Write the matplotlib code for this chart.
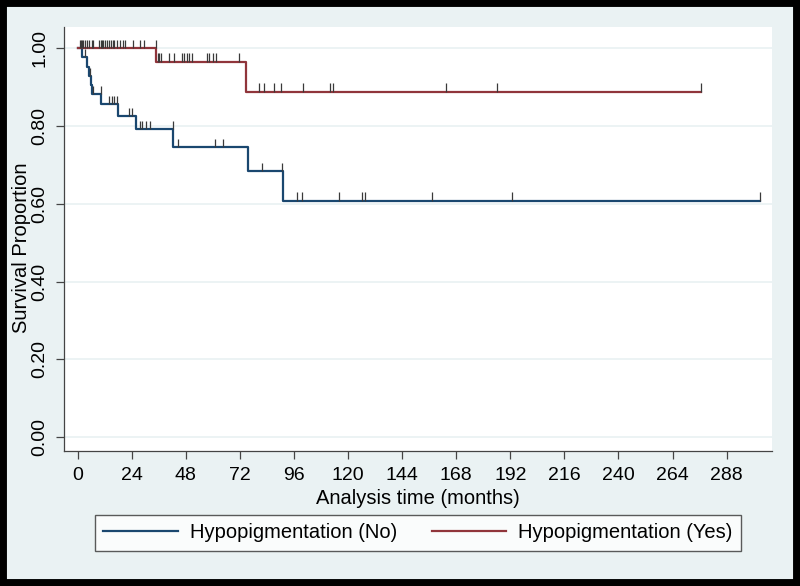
import numpy as np
import matplotlib
matplotlib.use("Agg")
import matplotlib.pyplot as plt
from matplotlib.lines import Line2D
from matplotlib.patches import Rectangle

plt.rcParams['font.family'] = ['Liberation Sans', 'DejaVu Sans']

# Kaplan-Meier steps: time of each drop and survival after it (last point = end of follow-up)
no_times = [0, 2.1, 4.1, 5.2, 5.8, 6.3, 10.5, 17.8, 25.9, 42.5, 75.5, 91.3, 302.7]
no_surv = [1.0, 0.976, 0.952, 0.929, 0.905, 0.881, 0.857, 0.826, 0.791, 0.746, 0.683, 0.608, 0.608]
no_censor = [3.5, 5.5, 7.0, 10.3, 14.0, 15.2, 16.3, 17.4, 23.0, 24.0, 27.5, 28.8, 30.6, 32.0,
             42.3, 44.7, 61.0, 64.4, 81.7, 90.8, 97.2, 99.4, 116.1, 126.0, 127.5, 157.3,
             192.8, 302.7]

yes_times = [0, 35.0, 74.8, 276.4]
yes_surv = [1.0, 0.965, 0.888, 0.888]
yes_censor = [1.0, 1.5, 2.0, 2.5, 3.3, 4.1, 5.3, 6.3, 7.0, 9.7, 10.2, 10.7, 11.4, 12.2, 12.9,
              14.1, 14.7, 15.6, 16.3, 17.7, 18.8, 20.3, 21.2, 24.5, 27.7, 29.5, 34.8, 35.5,
              36.3, 37.2, 40.7, 42.8, 46.5, 47.2, 48.4, 49.6, 50.6, 57.6, 58.5, 60.2, 61.4,
              71.8, 80.6, 82.7, 87.2, 90.1, 99.9, 112.0, 113.4, 163.3, 186.3, 276.4]

labels = ['Hypopigmentation (No)', 'Hypopigmentation (Yes)']
x_ticks = list(range(0, 289, 24))
y_ticks = [0.0, 0.2, 0.4, 0.6, 0.8, 1.0]

BLUE = '#1A476F'
RED = '#90353B'
BG = '#EAF2F3'


def surv_at(times, surv, t):
    idx = np.searchsorted(times, t, side='right') - 1
    return np.asarray(surv)[idx]


fig = plt.figure(figsize=(8, 5.86), dpi=100, facecolor=BG)
ax = fig.add_axes([0.08, 0.2304, 0.885, 0.7235])
ax.set_facecolor('white')

for yt in y_ticks:
    ax.axhline(yt, color=BG, lw=1.3, zorder=0)

ax.step(no_times, no_surv, where='post', color=BLUE, lw=1.6, zorder=2)
ax.step(yes_times, yes_surv, where='post', color=RED, lw=1.6, zorder=2)

# censored observations as short ticks above the curve
for times, surv, cens in [(no_times, no_surv, no_censor), (yes_times, yes_surv, yes_censor)]:
    lev = surv_at(times, surv, cens)
    ax.vlines(cens, lev, lev + 0.021, color='#3a3a3a', lw=0.9, zorder=3)

ax.set_xlim(-6.0, 308.1)
ax.set_ylim(-0.035, 1.054)
ax.set_xticks(x_ticks)
ax.set_yticks(y_ticks)
ax.set_yticklabels(['%.2f' % v for v in y_ticks])
plt.setp(ax.get_yticklabels(), rotation=90, va='center')

for s in ['top', 'right']:
    ax.spines[s].set_visible(False)
for s in ['left', 'bottom']:
    ax.spines[s].set_color('#444444')
    ax.spines[s].set_linewidth(0.9)
ax.tick_params(axis='both', length=5.5, width=0.9, color='#444444', labelsize=14, pad=6)

ax.set_xlabel('Analysis time (months)', fontsize=14.5)
ax.set_ylabel('Survival Proportion', fontsize=14.5)
ax.xaxis.set_label_coords(0.5, -0.09)
ax.yaxis.set_label_coords(-0.047, 0.48)

handles = [Line2D([], [], color=BLUE, lw=1.6), Line2D([], [], color=RED, lw=1.6)]
leg = fig.legend(handles, labels, loc='center', ncol=2,
                 bbox_to_anchor=(418 / 800, 1 - 533 / 586),
                 bbox_transform=fig.transFigure, fontsize=14.5, frameon=True,
                 fancybox=False, edgecolor='#333333', borderaxespad=0,
                 handlelength=3.68, handletextpad=0.62, columnspacing=1.7,
                 borderpad=0.42)
leg.get_frame().set_linewidth(1.0)

# black frame around the whole picture
fig.patches.append(Rectangle((0, 0), 1, 1, transform=fig.transFigure, fill=False,
                             lw=10, edgecolor='black', zorder=10))

fig.savefig('out.png', dpi=100, facecolor=BG)
